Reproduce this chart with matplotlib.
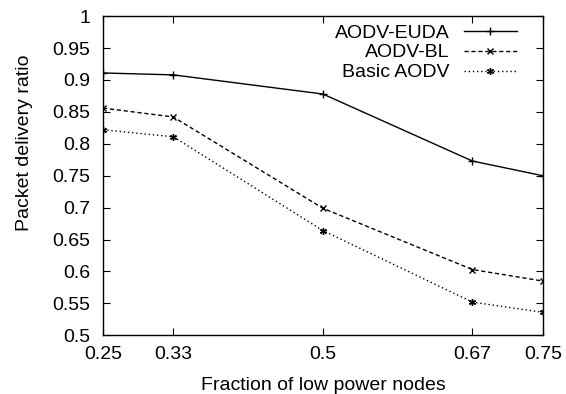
import matplotlib
matplotlib.use("Agg")
import matplotlib.pyplot as plt

# fraction of low power nodes
x = [0.25, 0.33, 0.5, 0.67, 0.75]
x_labels = ["0.25", "0.33", "0.5", "0.67", "0.75"]

euda = [0.911, 0.908, 0.878, 0.773, 0.750]
bl = [0.856, 0.842, 0.699, 0.603, 0.585]
basic = [0.822, 0.811, 0.664, 0.552, 0.536]

plt.rcParams['font.family'] = ['Liberation Sans', 'DejaVu Sans']
plt.rcParams['font.size'] = 14

fig = plt.figure(figsize=(5.66, 3.94), dpi=100)
ax = fig.add_axes([0.182, 0.149, 0.777, 0.81])

ax.plot(x, euda, color='black', lw=1, ls='-', marker='+', ms=6, mew=1,
        label='AODV-EUDA')
ax.plot(x, bl, color='black', lw=1, ls=(0, (3, 2)), marker='x', ms=5, mew=1,
        label='AODV-BL')
ax.plot(x, basic, color='black', lw=1, ls=(0, (1, 2)), marker=(6, 2, 0), ms=5, mew=1,
        label='Basic AODV')

ax.set_xlim(0.25, 0.75)
ax.set_ylim(0.5, 1.0)
ax.set_xticks(x)
ax.set_xticklabels(x_labels)
ax.set_yticks([0.5, 0.55, 0.6, 0.65, 0.7, 0.75, 0.8, 0.85, 0.9, 0.95, 1.0])
ax.set_yticklabels(["0.5", "0.55", "0.6", "0.65", "0.7", "0.75", "0.8",
                    "0.85", "0.9", "0.95", "1"])
ax.tick_params(direction='in', length=5, width=0.8, top=True, right=True)
ax.tick_params(axis='x', pad=8)
ax.tick_params(axis='y', pad=9)
for s in ax.spines.values():
    s.set_linewidth(1)

ax.set_xlabel("Fraction of low power nodes")
ax.set_ylabel("Packet delivery ratio")
ax.xaxis.set_label_coords(0.5, -0.13)
ax.yaxis.set_label_coords(-0.16, 0.603)

leg = ax.legend(loc='upper right', markerfirst=False, frameon=False,
                handlelength=2.7, handletextpad=0.75, labelspacing=0.12,
                borderaxespad=0.0, bbox_to_anchor=(0.958, 1.0))

fig.savefig("out.png", dpi=100)
